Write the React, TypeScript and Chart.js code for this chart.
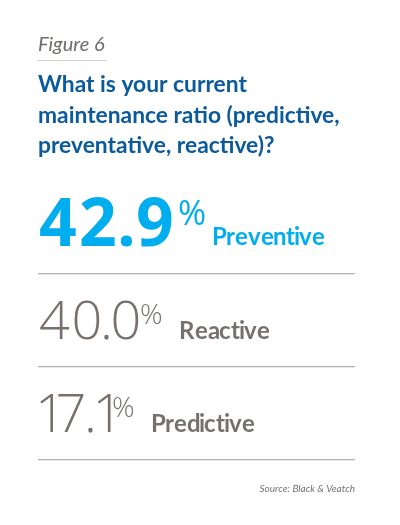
import { useEffect, useRef } from 'react';
import { Chart, registerables } from 'chart.js';

Chart.register(...registerables);

// data
const categories = ['Preventive', 'Reactive', 'Predictive'];
const values = [42.9, 40.0, 17.1];

const figureLabel = 'Figure 6';
const question = ['What is your current', 'maintenance ratio (predictive,', 'preventative, reactive)?'];
const source = 'Source: Black & Veatch';

const BLUE = '#00aeef';
const NAVY = '#0b5a9c';
const GRAY = '#77716e';
const RULE = '#b5b1ae';

// lay glyphs out by their ink so digits are proportional, returns right ink edge
const drawInk = (ctx: CanvasRenderingContext2D, text: string, x: number, base: number, gap: number) => {
  for (const ch of text) {
    const m = ctx.measureText(ch);
    ctx.fillText(ch, x + m.actualBoundingBoxLeft, base);
    x += m.actualBoundingBoxLeft + m.actualBoundingBoxRight + gap;
  }
  return x - gap;
};

// draws the big percentages, the underline under "Figure 6" and the source note
const bigNumbers = {
  id: 'bigNumbers',
  afterDatasetsDraw(chart: any) {
    const { ctx, chartArea } = chart;
    const yScale = chart.scales.y;
    ctx.save();
    ctx.textBaseline = 'alphabetic';
    ctx.textAlign = 'left';

    values.forEach((v, i) => {
      const lead = i === 0;
      const base = yScale.getPixelForValue(i) + 18.5;
      ctx.fillStyle = lead ? BLUE : GRAY;
      ctx.font = lead ? 'bold 66px "Open Sans"' : '300 54px "Open Sans"';
      let x = drawInk(ctx, v.toFixed(1), chartArea.left + 2, base, lead ? 5 : 4.5);
      ctx.font = lead ? '500 34px "Open Sans"' : '300 28px "Open Sans"';
      x = drawInk(ctx, '%', x + (lead ? 7 : 2.5), base - (lead ? 21 : 15), 0);
      ctx.font = lead ? 'bold 24px Lato' : 'bold 24px Lato';
      drawInk(ctx, categories[i], x + (lead ? 8 : 18), base - (lead ? 1 : 0), 0);
    });

    // underline below the figure label
    ctx.font = 'italic 20px Lato';
    const w = ctx.measureText(figureLabel).width;
    ctx.strokeStyle = '#d2cfcc';
    ctx.lineWidth = 1;
    ctx.beginPath();
    ctx.moveTo(chartArea.left, 60.5);
    ctx.lineTo(chartArea.left + w + 2, 60.5);
    ctx.stroke();

    ctx.font = 'italic 10px Lato';
    ctx.textAlign = 'right';
    ctx.fillStyle = GRAY;
    ctx.fillText(source, chartArea.right, chartArea.bottom + 32);
    ctx.restore();
  },
};

const App = () => {
  const canvasRef = useRef<HTMLCanvasElement>(null);
  const chartRef = useRef<Chart | null>(null);

  useEffect(() => {
    if (!canvasRef.current) return;
    if (chartRef.current) chartRef.current.destroy();

    chartRef.current = new Chart(canvasRef.current, {
      type: 'bar',
      data: {
        labels: categories,
        datasets: [{
          data: values,
          backgroundColor: 'rgba(0,0,0,0)',
          borderWidth: 0,
        }],
      },
      options: {
        indexAxis: 'y',
        responsive: false,
        animation: false,
        layout: { padding: { left: 38, right: 45, top: 0, bottom: 65 } },
        scales: {
          x: { display: false, min: 0, max: 100 },
          y: {
            border: { display: false },
            ticks: { display: false },
            grid: {
              drawTicks: false,
              lineWidth: 1.2,
              color: (c: any) => (c.index === 0 ? 'rgba(0,0,0,0)' : RULE),
            },
          },
        },
        plugins: {
          legend: { display: false },
          tooltip: { enabled: false },
          title: {
            display: true,
            text: figureLabel,
            align: 'start',
            color: '#6f6b68',
            font: { family: 'Lato', size: 20, style: 'italic', weight: 'normal', lineHeight: 1.2 },
            padding: { top: 32.5, bottom: 13 },
          },
          subtitle: {
            display: true,
            text: question,
            align: 'start',
            color: NAVY,
            font: { family: 'Lato', size: 22.8, weight: 'bold', lineHeight: 1.34 },
            padding: { top: 0, bottom: 19.5 },
          },
        },
      },
      plugins: [bigNumbers],
    });

    return () => {
      if (chartRef.current) {
        chartRef.current.destroy();
        chartRef.current = null;
      }
    };
  }, []);

  return (
    <div style={{ position: 'absolute', left: 0, top: 0, width: 400, height: 525, background: '#fff' }}>
      <canvas ref={canvasRef} width={400} height={525} style={{ display: 'block' }} />
    </div>
  );
};

export default App;
